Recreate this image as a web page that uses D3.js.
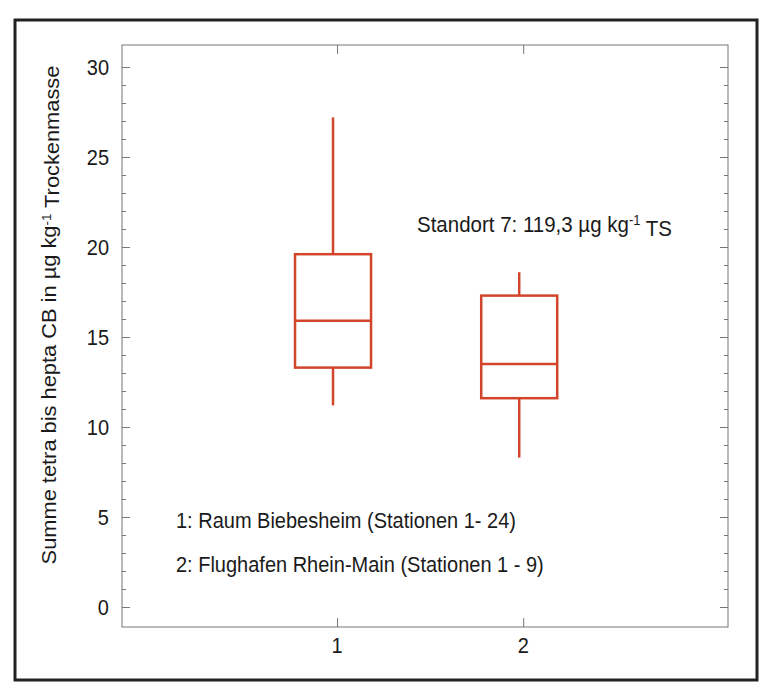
<!DOCTYPE html>
<html>
<head>
<meta charset="utf-8">
<script src="https://cdn.jsdelivr.net/npm/d3@7/dist/d3.min.js"></script>
<style>
  body { margin: 0; background: #fff; }
  text { font-family: "Liberation Sans", Arial, sans-serif; fill: #1a1a1a; }
</style>
</head>
<body>
<div id="chart"></div>
<script>
// data
const groups = [1, 2];
const whiskerLow = [11.2, 8.3];
const q1 = [13.3, 11.6];
const median = [15.9, 13.5];
const q3 = [19.6, 17.3];
const whiskerHigh = [27.2, 18.6];
const yTicks = [0, 5, 10, 15, 20, 25, 30];
const notes = ['1: Raum Biebesheim (Stationen 1- 24)', '2: Flughafen Rhein-Main (Stationen 1 - 9)'];

const WIDTH = 760, HEIGHT = 683;
const PLOT = {left: 122, right: 728, top: 45, bottom: 627};
const BOX_COLOR = '#d2452b';
const STRETCH = 1.12; // scanned text is a bit taller than wide

const svg = d3.select('#chart').append('svg')
  .attr('width', WIDTH)
  .attr('height', HEIGHT);

// scanned page border
svg.append('rect')
  .attr('x', 15).attr('y', 20)
  .attr('width', 742).attr('height', 660)
  .attr('fill', 'none')
  .attr('stroke', '#222')
  .attr('stroke-width', 3);

let x = d3.scaleLinear().domain([-0.155, 3.1]).range([PLOT.left, PLOT.right]);
let y = d3.scaleLinear().domain([0, 30]).range([607, 67]);

function place(px, py) {
  return 'translate(' + px + ',' + py + ') scale(1,' + STRETCH + ')';
}

// plot frame
svg.append('rect')
  .attr('x', PLOT.left).attr('y', PLOT.top)
  .attr('width', PLOT.right - PLOT.left).attr('height', PLOT.bottom - PLOT.top)
  .attr('fill', 'none')
  .attr('stroke', '#777')
  .attr('stroke-width', 1);

// axes, ticks pointing inward
function styleAxis(g) {
  g.select('.domain').remove();
  g.selectAll('.tick line').attr('stroke', '#777');
}

let minorVals = d3.range(0, 31).filter(v => v % 5 !== 0);

svg.append('g')
  .attr('transform', 'translate(' + PLOT.left + ',0)')
  .call(d3.axisRight(y).tickValues(yTicks).tickSize(8).tickFormat(''))
  .call(styleAxis);
svg.append('g')
  .attr('transform', 'translate(' + PLOT.left + ',0)')
  .call(d3.axisRight(y).tickValues(minorVals).tickSize(4).tickFormat(''))
  .call(styleAxis);
svg.append('g')
  .attr('transform', 'translate(' + PLOT.right + ',0)')
  .call(d3.axisLeft(y).tickValues(yTicks).tickSize(8).tickFormat(''))
  .call(styleAxis);
svg.append('g')
  .attr('transform', 'translate(' + PLOT.right + ',0)')
  .call(d3.axisLeft(y).tickValues(minorVals).tickSize(4).tickFormat(''))
  .call(styleAxis);

// y tick labels
svg.append('g')
  .selectAll('text')
  .data(yTicks)
  .enter().append('text')
  .attr('transform', d => place(109, y(d)))
  .attr('dy', '0.36em')
  .style('font-size', '20px')
  .style('text-anchor', 'end')
  .text(d => d);

// x ticks
svg.append('g')
  .attr('transform', 'translate(0,' + PLOT.bottom + ')')
  .call(d3.axisTop(x).tickValues(groups).tickSize(9).tickFormat(''))
  .call(styleAxis);
svg.append('g')
  .attr('transform', 'translate(0,' + PLOT.top + ')')
  .call(d3.axisBottom(x).tickValues(groups).tickSize(9).tickFormat(''))
  .call(styleAxis);
svg.append('g')
  .selectAll('text')
  .data(groups)
  .enter().append('text')
  .attr('transform', d => place(x(d), 653))
  .style('font-size', '20px')
  .style('text-anchor', 'middle')
  .text(d => d);

// y axis title
let yTitle = svg.append('text')
  .attr('transform', 'translate(56,' + 315 + ') scale(1,' + STRETCH + ') rotate(-90)')
  .style('font-size', '19.5px')
  .style('text-anchor', 'middle');
yTitle.append('tspan').text('Summe tetra bis hepta CB in \u00b5g kg');
yTitle.append('tspan').attr('dy', '-0.45em').style('font-size', '12px').text('-1');
yTitle.append('tspan').attr('dy', '0.45em').text(' Trockenmasse');

// box plots
const boxW = 76;
let boxes = svg.append('g')
  .selectAll('g')
  .data(groups.map((g, i) => ({g: g, lo: whiskerLow[i], q1: q1[i], med: median[i], q3: q3[i], hi: whiskerHigh[i]})))
  .enter().append('g')
  .attr('stroke', BOX_COLOR)
  .attr('stroke-width', 2.5)
  .attr('fill', 'none');

boxes.append('line')
  .attr('x1', d => x(d.g) - 4).attr('x2', d => x(d.g) - 4)
  .attr('y1', d => y(d.q3)).attr('y2', d => y(d.hi));
boxes.append('line')
  .attr('x1', d => x(d.g) - 4).attr('x2', d => x(d.g) - 4)
  .attr('y1', d => y(d.q1)).attr('y2', d => y(d.lo));
boxes.append('rect')
  .attr('x', d => x(d.g) - 4 - boxW / 2)
  .attr('y', d => y(d.q3))
  .attr('width', boxW)
  .attr('height', d => y(d.q1) - y(d.q3));
boxes.append('line')
  .attr('x1', d => x(d.g) - 4 - boxW / 2).attr('x2', d => x(d.g) - 4 + boxW / 2)
  .attr('y1', d => y(d.med)).attr('y2', d => y(d.med));

// annotations
let note = svg.append('text')
  .attr('transform', place(417, 232))
  .style('font-size', '20.5px');
note.append('tspan').text('Standort 7: 119,3 \u00b5g kg');
note.append('tspan').attr('dy', '-0.45em').style('font-size', '13px').text('-1');
note.append('tspan').attr('dy', '0.45em').text(' TS');

svg.append('g')
  .selectAll('text')
  .data(notes)
  .enter().append('text')
  .attr('transform', (d, i) => place(176, 528 + i * 44))
  .style('font-size', '20px')
  .text(d => d);
</script>
</body>
</html>
